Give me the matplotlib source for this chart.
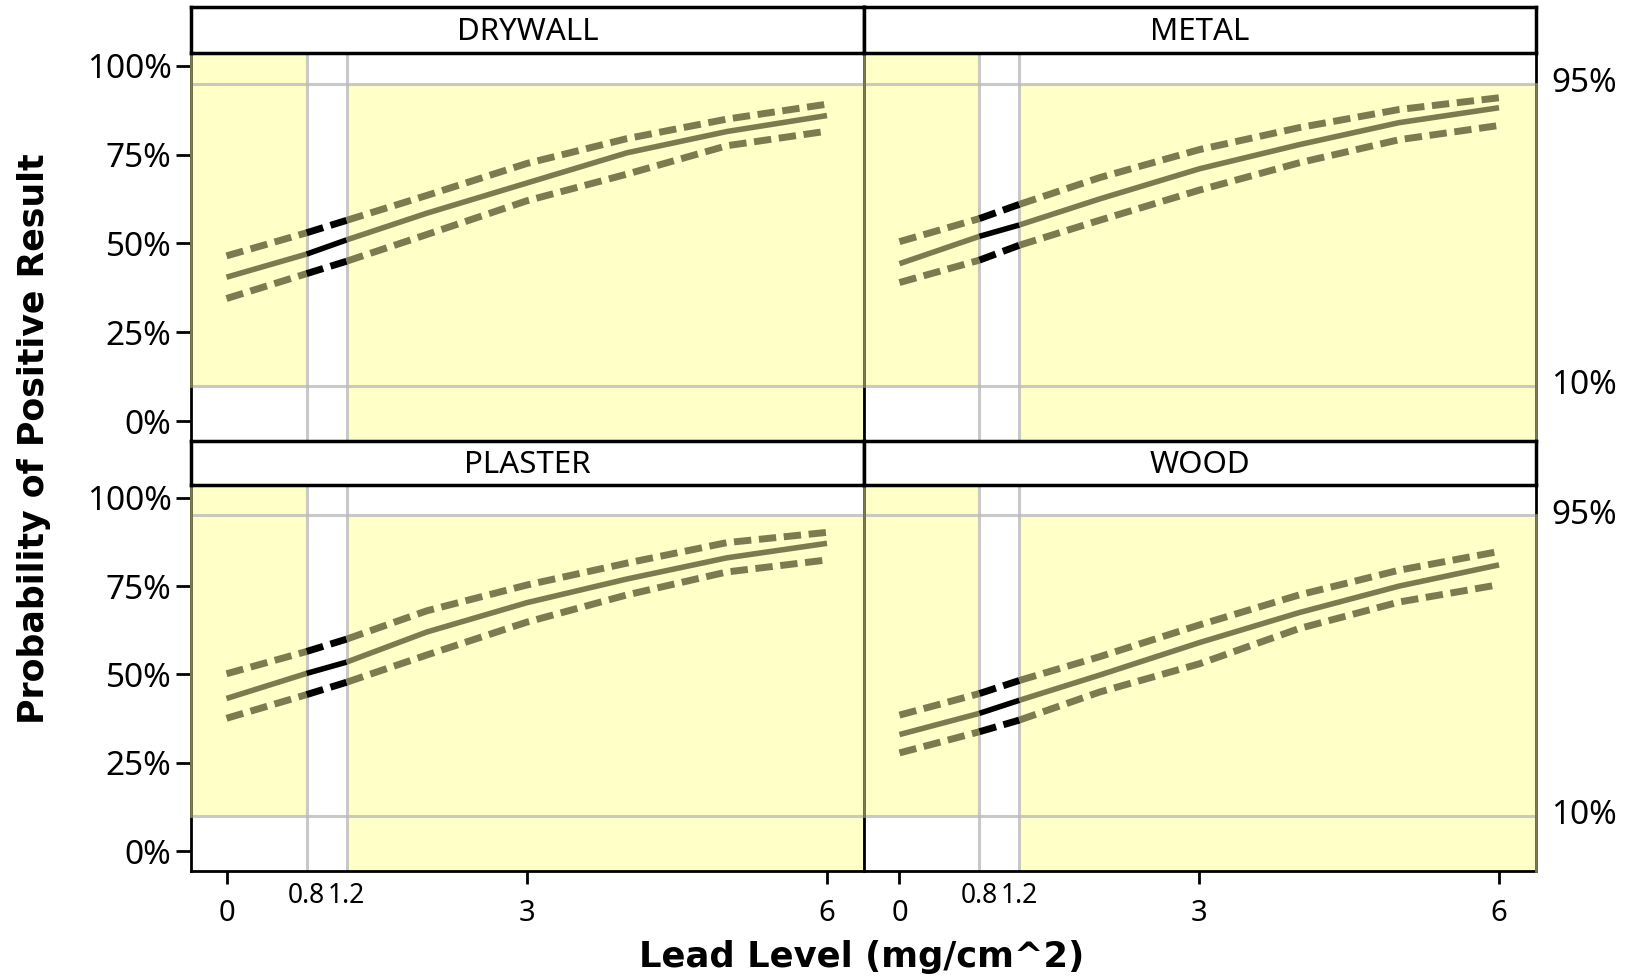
import matplotlib
matplotlib.use("Agg")
import matplotlib.pyplot as plt
import matplotlib.transforms as mtransforms
import numpy as np

# ---------------- data ----------------
panels = ["DRYWALL", "METAL", "PLASTER", "WOOD"]
lead_level = [0, 0.8, 1.2, 2, 3, 4, 5, 6]

drywall_mean  = [40.5, 47.0, 51.0, 58.5, 67.0, 75.5, 81.5, 86.0]
drywall_upper = [46.5, 53.0, 56.5, 63.5, 72.5, 79.5, 85.0, 89.2]
drywall_lower = [34.5, 41.5, 45.0, 52.5, 62.0, 69.5, 77.5, 81.6]

metal_mean  = [44.3, 52.0, 55.2, 62.5, 71.0, 77.8, 84.0, 88.2]
metal_upper = [50.5, 57.0, 61.0, 68.5, 76.4, 82.6, 87.7, 91.0]
metal_lower = [39.0, 45.3, 49.5, 56.5, 65.0, 72.7, 79.2, 83.2]

plaster_mean  = [43.2, 50.3, 53.5, 62.0, 70.3, 77.0, 83.0, 87.1]
plaster_upper = [50.2, 56.5, 60.0, 68.0, 75.3, 81.5, 87.3, 90.2]
plaster_lower = [37.6, 44.3, 47.8, 55.5, 64.8, 72.5, 79.0, 82.4]

wood_mean  = [33.0, 39.0, 42.7, 49.8, 59.0, 67.5, 75.0, 81.0]
wood_upper = [38.5, 44.6, 48.3, 55.0, 64.0, 72.5, 79.5, 84.8]
wood_lower = [27.8, 33.8, 37.1, 45.0, 53.0, 63.0, 70.5, 75.4]

low_threshold, high_threshold = 0.8, 1.2      # mg/cm^2
fp_level, pod_level = 10, 95                  # percent reference lines
y_ticks = [0, 25, 50, 75, 100]
y_ticklabels = ["0%", "25%", "50%", "75%", "100%"]
x_major = [0, 3, 6]
x_minor = [0.8, 1.2]

series = {
    "DRYWALL": (drywall_mean, drywall_upper, drywall_lower),
    "METAL": (metal_mean, metal_upper, metal_lower),
    "PLASTER": (plaster_mean, plaster_upper, plaster_lower),
    "WOOD": (wood_mean, wood_upper, wood_lower),
}

# ---------------- style ----------------
W, H = 1631, 980
fig = plt.figure(figsize=(W / 100, H / 100), dpi=100)
TICKFONT = "Noto Sans"
OLIVE = "#7b7b4f"
YELLOW = "#ffffc8"
GRID = "#b8b8b8"
XLIM = (-0.355, 6.37)
YLIM = (-5.6, 103.6)

def px_box(x0, y0, x1, y1):
    return [x0 / W, 1 - y1 / H, (x1 - x0) / W, (y1 - y0) / H]

cols = [(191, 864), (864, 1536)]
rows = [((7, 53), (53, 441)), ((441, 485), (485, 871))]

def draw_curve(ax, x, y, dashed):
    x = np.asarray(x, float)
    y = np.asarray(y, float)
    segs = [
        (x <= low_threshold, OLIVE),
        ((x >= low_threshold) & (x <= high_threshold), "black"),
        (x >= high_threshold, OLIVE),
    ]
    for m, c in segs:
        lw = 5.0 if dashed else 4.0
        ln, = ax.plot(x[m], y[m], color=c, lw=lw, solid_capstyle="butt",
                      dash_capstyle="butt", zorder=5)
        if dashed:
            ln.set_dashes((2.5, 1.1))

for i, name in enumerate(panels):
    r, c = divmod(i, 2)
    (sy0, sy1), (ay0, ay1) = rows[r]
    x0, x1 = cols[c]
    ax = fig.add_axes(px_box(x0, ay0, x1, ay1))
    ax.set_xlim(*XLIM)
    ax.set_ylim(*YLIM)
    ax.set_facecolor("white")

    # shaded regions
    ax.fill_between([XLIM[0], low_threshold], fp_level, YLIM[1],
                    color=YELLOW, lw=0, zorder=1)
    ax.fill_between([high_threshold, XLIM[1]], YLIM[0], pod_level,
                    color=YELLOW, lw=0, zorder=1)
    # reference lines
    for xv in (low_threshold, high_threshold):
        ax.axvline(xv, color=GRID, lw=2.2, alpha=0.75, zorder=2)
    for yv in (fp_level, pod_level):
        ax.axhline(yv, color=GRID, lw=2.2, alpha=0.75, zorder=2)

    mean, upper, lower = series[name]
    draw_curve(ax, lead_level, upper, True)
    draw_curve(ax, lead_level, lower, True)
    draw_curve(ax, lead_level, mean, False)

    for sp in ax.spines.values():
        sp.set_linewidth(2)
        sp.set_color("black")
    # olive edge of shaded areas along spines
    ax.plot([XLIM[0], XLIM[0]], [fp_level, YLIM[1]], color=OLIVE, lw=2,
            clip_on=False, zorder=6)
    ax.plot([XLIM[1], XLIM[1]], [YLIM[0], pod_level], color=OLIVE, lw=2,
            clip_on=False, zorder=6)

    # x ticks
    ax.set_xticks(x_major)
    ax.set_xticklabels([str(v) for v in x_major], fontsize=21, family=TICKFONT)
    ax.set_xticks(x_minor, minor=True)
    ax.set_xticklabels(["0.8", "1.2"], minor=True, fontsize=19, family=TICKFONT)
    ax.tick_params(axis="x", which="major", length=9, width=2, pad=11)
    ax.tick_params(axis="x", which="minor", length=0, pad=8)
    if r == 0:
        ax.tick_params(axis="x", which="both", labelbottom=False)
        ax.tick_params(axis="x", which="major", length=0)

    # y ticks
    if c == 0:
        ax.set_yticks(y_ticks)
        ax.set_yticklabels(y_ticklabels, fontsize=24, family=TICKFONT)
        ax.tick_params(axis="y", length=11, width=2, pad=3)
    else:
        ax.set_yticks([])
        off = mtransforms.offset_copy(ax.get_yaxis_transform(), fig=fig,
                                      x=15, y=0, units="dots")
        for yv in (pod_level, fp_level):
            ax.text(1.0, yv, f"{yv}%", transform=off,
                    ha="left", va="center", fontsize=24, family=TICKFONT)

    # strip
    sax = fig.add_axes(px_box(x0, sy0, x1, sy1))
    sax.set_xticks([])
    sax.set_yticks([])
    sax.set_facecolor("white")
    for sp in sax.spines.values():
        sp.set_linewidth(2.5)
    sax.text(0.5, 0.45, name, ha="center", va="center", fontsize=22.5,
             family=TICKFONT, transform=sax.transAxes)

fig.text(34 / W, 1 - 439 / H, "Probability of Positive Result", rotation=90,
         ha="center", va="center", fontsize=25, fontweight="bold",
         family="DejaVu Sans")
fig.text(862 / W, 1 - 957 / H, "Lead Level (mg/cm^2)", ha="center",
         va="center", fontsize=25.5, fontweight="bold", family="DejaVu Sans")

fig.savefig("out.png", dpi=100, facecolor="white")
